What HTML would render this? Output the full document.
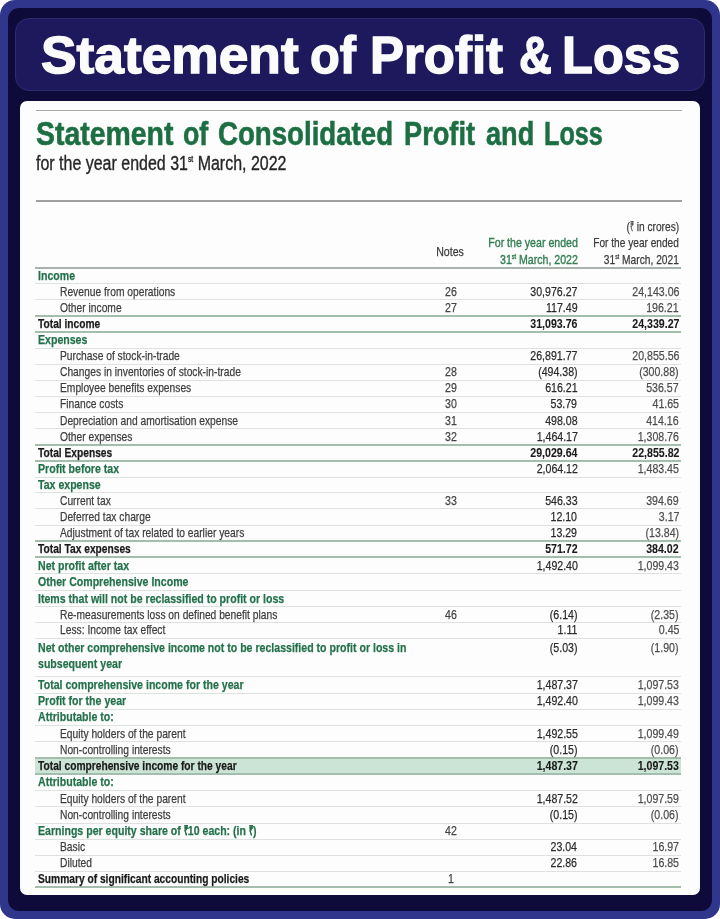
<!DOCTYPE html>
<html><head><meta charset="utf-8"><style>
html,body{margin:0;padding:0;background:#fff;}
#pg{filter:blur(0.3px);position:relative;width:720px;height:919px;overflow:hidden;background:#fff;font-family:"Liberation Sans",sans-serif;}
.outer{position:absolute;left:0;top:0;width:720px;height:919px;background:#30368c;border-radius:15px;}
.navy{position:absolute;left:8px;top:8px;right:8px;bottom:8.5px;background:#0e0b3a;border-radius:11px;}
.pill{position:absolute;left:15px;top:18px;width:689.5px;height:73px;box-sizing:border-box;background:#1d195c;border:1px solid #2e2a6e;border-radius:14px;}
.title{position:absolute;left:41px;top:0;white-space:nowrap;color:#fbfbfb;font-weight:700;font-size:52px;line-height:60px;-webkit-text-stroke:1.4px #fbfbfb;}
.card{position:absolute;left:20px;top:101px;width:680px;height:794px;background:#fdfdfd;border-radius:7px;}
.topln{position:absolute;left:35.5px;top:109.5px;width:646px;height:1.6px;background:#a9a9a3;}
.h1{position:absolute;white-space:nowrap;color:#1d6f43;font-weight:700;font-size:34px;line-height:36px;-webkit-text-stroke:0.6px #1d6f43;}
.sub{position:absolute;white-space:nowrap;color:#262626;font-size:20px;line-height:22px;-webkit-text-stroke:0.35px #262626;}
.sub sup{font-size:8.5px;vertical-align:top;position:relative;top:-3.5px;}
.tl{position:absolute;left:35.5px;top:200px;width:646px;height:1.6px;background:#a0a0a0;}
.ln{position:absolute;left:35px;width:646px;height:1px;background:#dde2df;}
.ln.thk.hdr{background:#a9b2ad;}
.ln.thk{height:2px;background:#a4bead;}
.band{position:absolute;left:35px;width:646px;background:#cce4d5;}
.t{position:absolute;white-space:nowrap;font-size:13.6px;line-height:16px;-webkit-text-stroke:0.25px currentColor;}
.t sup{font-size:7px;vertical-align:top;position:relative;top:-2.5px;}
.gb{color:#23714a;font-weight:700;}
.rs{display:inline-block;transform:scaleX(0.72);margin:0 -1.4px;}
.kb{color:#1a1a1a;font-weight:700;}
.rg{color:#3d3d3d;}
.n{color:#444;}
.v22{color:#2a2a2a;}
.v21{color:#4d4d4d;}
.v22b{color:#1a1a1a;font-weight:700;-webkit-text-stroke:0.1px currentColor;}
.v21b{color:#1a1a1a;font-weight:700;-webkit-text-stroke:0.1px currentColor;}
.h22{color:#327f52;-webkit-text-stroke:0.4px currentColor;}
.h21{color:#3a3a3a;}
</style></head><body><div id="pg">
<div class="outer"></div>
<div class="navy"></div>
<div class="pill"></div>
<div class="title" style="left:40.78px;top:25.4px;transform-origin:0 0;transform:scaleX(1.0248)">Statement</div><div class="title" style="left:309.56px;top:25.4px;transform-origin:0 0;transform:scaleX(0.9367)">of</div><div class="title" style="left:370.06px;top:25.4px;transform-origin:0 0;transform:scaleX(0.9797)">Profit</div><div class="title" style="left:519.05px;top:25.4px;transform-origin:0 0;transform:scaleX(0.8743)">&amp;</div><div class="title" style="left:561.58px;top:25.4px;transform-origin:0 0;transform:scaleX(0.9726)">Loss</div>
<div class="card"></div>
<div class="topln"></div>
<div class="h1" style="left:35.86px;top:115px;transform-origin:0 0;transform:scaleX(0.8356)">Statement</div><div class="h1" style="left:182.81px;top:115px;transform-origin:0 0;transform:scaleX(0.7875)">of</div><div class="h1" style="left:217.99px;top:115px;transform-origin:0 0;transform:scaleX(0.8131)">Consolidated</div><div class="h1" style="left:404.40px;top:115px;transform-origin:0 0;transform:scaleX(0.8000)">Profit</div><div class="h1" style="left:486.10px;top:115px;transform-origin:0 0;transform:scaleX(0.7983)">and</div><div class="h1" style="left:543.52px;top:115px;transform-origin:0 0;transform:scaleX(0.7408)">Loss</div>
<div class="sub" style="left:36px;top:151.5px;transform-origin:0 0;transform:scaleX(0.799)">for the year ended 31<sup>st</sup> March, 2022</div>
<div class="tl"></div>
<div class="band" style="top:757px;height:17px"></div><div class="ln thk hdr" style="top:267.00px"></div><div class="ln lt" style="top:283.00px"></div><div class="ln lt" style="top:299.00px"></div><div class="ln thk" style="top:315.00px"></div><div class="ln thk" style="top:331.00px"></div><div class="ln lt" style="top:348.00px"></div><div class="ln lt" style="top:364.00px"></div><div class="ln lt" style="top:380.00px"></div><div class="ln lt" style="top:396.00px"></div><div class="ln lt" style="top:412.00px"></div><div class="ln lt" style="top:428.00px"></div><div class="ln thk" style="top:444.00px"></div><div class="ln thk" style="top:460.00px"></div><div class="ln lt" style="top:477.00px"></div><div class="ln lt" style="top:492.00px"></div><div class="ln lt" style="top:508.00px"></div><div class="ln lt" style="top:525.00px"></div><div class="ln thk" style="top:540.00px"></div><div class="ln thk" style="top:556.00px"></div><div class="ln lt" style="top:573.00px"></div><div class="ln lt" style="top:590.00px"></div><div class="ln lt" style="top:606.00px"></div><div class="ln lt" style="top:622.00px"></div><div class="ln lt" style="top:638.00px"></div><div class="ln lt" style="top:676.00px"></div><div class="ln lt" style="top:693.00px"></div><div class="ln lt" style="top:709.00px"></div><div class="ln lt" style="top:725.00px"></div><div class="ln lt" style="top:741.00px"></div><div class="ln thk" style="top:757.00px"></div><div class="ln thk" style="top:773.00px"></div><div class="ln lt" style="top:790.00px"></div><div class="ln lt" style="top:806.00px"></div><div class="ln lt" style="top:823.00px"></div><div class="ln lt" style="top:839.00px"></div><div class="ln lt" style="top:855.00px"></div><div class="ln lt" style="top:871.00px"></div><div class="ln thk" style="top:886.00px"></div>
<div class="t gb" style="left:37.8px;top:267.5px;transform-origin:0 0;transform:scaleX(0.778)">Income</div><div class="t rg" style="left:60.0px;top:283.9px;transform-origin:0 0;transform:scaleX(0.755)">Revenue from operations</div><div class="t n" style="left:351.0px;width:200px;text-align:center;top:283.9px;transform-origin:50% 0;transform:scaleX(0.78)">26</div><div class="t v22" style="right:142.5px;top:283.9px;transform-origin:100% 0;transform:scaleX(0.78)">30,976.27</div><div class="t v21" style="right:41.0px;top:283.9px;transform-origin:100% 0;transform:scaleX(0.78)">24,143.06</div><div class="t rg" style="left:60.0px;top:299.5px;transform-origin:0 0;transform:scaleX(0.755)">Other income</div><div class="t n" style="left:351.0px;width:200px;text-align:center;top:299.5px;transform-origin:50% 0;transform:scaleX(0.78)">27</div><div class="t v22" style="right:142.5px;top:299.5px;transform-origin:100% 0;transform:scaleX(0.78)">117.49</div><div class="t v21" style="right:41.0px;top:299.5px;transform-origin:100% 0;transform:scaleX(0.78)">196.21</div><div class="t kb" style="left:37.8px;top:315.9px;transform-origin:0 0;transform:scaleX(0.752)">Total income</div><div class="t v22b" style="right:142.5px;top:315.9px;transform-origin:100% 0;transform:scaleX(0.78)">31,093.76</div><div class="t v21b" style="right:41.0px;top:315.9px;transform-origin:100% 0;transform:scaleX(0.78)">24,339.27</div><div class="t gb" style="left:37.8px;top:332.3px;transform-origin:0 0;transform:scaleX(0.778)">Expenses</div><div class="t rg" style="left:60.0px;top:348.4px;transform-origin:0 0;transform:scaleX(0.755)">Purchase of stock-in-trade</div><div class="t v22" style="right:142.5px;top:348.4px;transform-origin:100% 0;transform:scaleX(0.78)">26,891.77</div><div class="t v21" style="right:41.0px;top:348.4px;transform-origin:100% 0;transform:scaleX(0.78)">20,855.56</div><div class="t rg" style="left:60.0px;top:364.3px;transform-origin:0 0;transform:scaleX(0.755)">Changes in inventories of stock-in-trade</div><div class="t n" style="left:351.0px;width:200px;text-align:center;top:364.3px;transform-origin:50% 0;transform:scaleX(0.78)">28</div><div class="t v22" style="right:142.5px;top:364.3px;transform-origin:100% 0;transform:scaleX(0.78)">(494.38)</div><div class="t v21" style="right:41.0px;top:364.3px;transform-origin:100% 0;transform:scaleX(0.78)">(300.88)</div><div class="t rg" style="left:60.0px;top:380.3px;transform-origin:0 0;transform:scaleX(0.755)">Employee benefits expenses</div><div class="t n" style="left:351.0px;width:200px;text-align:center;top:380.3px;transform-origin:50% 0;transform:scaleX(0.78)">29</div><div class="t v22" style="right:142.5px;top:380.3px;transform-origin:100% 0;transform:scaleX(0.78)">616.21</div><div class="t v21" style="right:41.0px;top:380.3px;transform-origin:100% 0;transform:scaleX(0.78)">536.57</div><div class="t rg" style="left:60.0px;top:396.4px;transform-origin:0 0;transform:scaleX(0.755)">Finance costs</div><div class="t n" style="left:351.0px;width:200px;text-align:center;top:396.4px;transform-origin:50% 0;transform:scaleX(0.78)">30</div><div class="t v22" style="right:142.5px;top:396.4px;transform-origin:100% 0;transform:scaleX(0.78)">53.79</div><div class="t v21" style="right:41.0px;top:396.4px;transform-origin:100% 0;transform:scaleX(0.78)">41.65</div><div class="t rg" style="left:60.0px;top:412.7px;transform-origin:0 0;transform:scaleX(0.755)">Depreciation and amortisation expense</div><div class="t n" style="left:351.0px;width:200px;text-align:center;top:412.7px;transform-origin:50% 0;transform:scaleX(0.78)">31</div><div class="t v22" style="right:142.5px;top:412.7px;transform-origin:100% 0;transform:scaleX(0.78)">498.08</div><div class="t v21" style="right:41.0px;top:412.7px;transform-origin:100% 0;transform:scaleX(0.78)">414.16</div><div class="t rg" style="left:60.0px;top:428.8px;transform-origin:0 0;transform:scaleX(0.755)">Other expenses</div><div class="t n" style="left:351.0px;width:200px;text-align:center;top:428.8px;transform-origin:50% 0;transform:scaleX(0.78)">32</div><div class="t v22" style="right:142.5px;top:428.8px;transform-origin:100% 0;transform:scaleX(0.78)">1,464.17</div><div class="t v21" style="right:41.0px;top:428.8px;transform-origin:100% 0;transform:scaleX(0.78)">1,308.76</div><div class="t kb" style="left:37.8px;top:444.9px;transform-origin:0 0;transform:scaleX(0.752)">Total Expenses</div><div class="t v22b" style="right:142.5px;top:444.9px;transform-origin:100% 0;transform:scaleX(0.78)">29,029.64</div><div class="t v21b" style="right:41.0px;top:444.9px;transform-origin:100% 0;transform:scaleX(0.78)">22,855.82</div><div class="t gb" style="left:37.8px;top:461.0px;transform-origin:0 0;transform:scaleX(0.778)">Profit before tax</div><div class="t v22" style="right:142.5px;top:461.0px;transform-origin:100% 0;transform:scaleX(0.78)">2,064.12</div><div class="t v21" style="right:41.0px;top:461.0px;transform-origin:100% 0;transform:scaleX(0.78)">1,483.45</div><div class="t gb" style="left:37.8px;top:476.6px;transform-origin:0 0;transform:scaleX(0.778)">Tax expense</div><div class="t rg" style="left:60.0px;top:492.9px;transform-origin:0 0;transform:scaleX(0.755)">Current tax</div><div class="t n" style="left:351.0px;width:200px;text-align:center;top:492.9px;transform-origin:50% 0;transform:scaleX(0.78)">33</div><div class="t v22" style="right:142.5px;top:492.9px;transform-origin:100% 0;transform:scaleX(0.78)">546.33</div><div class="t v21" style="right:41.0px;top:492.9px;transform-origin:100% 0;transform:scaleX(0.78)">394.69</div><div class="t rg" style="left:60.0px;top:509.3px;transform-origin:0 0;transform:scaleX(0.755)">Deferred tax charge</div><div class="t v22" style="right:142.5px;top:509.3px;transform-origin:100% 0;transform:scaleX(0.78)">12.10</div><div class="t v21" style="right:41.0px;top:509.3px;transform-origin:100% 0;transform:scaleX(0.78)">3.17</div><div class="t rg" style="left:60.0px;top:525.4px;transform-origin:0 0;transform:scaleX(0.755)">Adjustment of tax related to earlier years</div><div class="t v22" style="right:142.5px;top:525.4px;transform-origin:100% 0;transform:scaleX(0.78)">13.29</div><div class="t v21" style="right:41.0px;top:525.4px;transform-origin:100% 0;transform:scaleX(0.78)">(13.84)</div><div class="t kb" style="left:37.8px;top:541.0px;transform-origin:0 0;transform:scaleX(0.752)">Total Tax expenses</div><div class="t v22b" style="right:142.5px;top:541.0px;transform-origin:100% 0;transform:scaleX(0.78)">571.72</div><div class="t v21b" style="right:41.0px;top:541.0px;transform-origin:100% 0;transform:scaleX(0.78)">384.02</div><div class="t gb" style="left:37.8px;top:557.9px;transform-origin:0 0;transform:scaleX(0.778)">Net profit after tax</div><div class="t v22" style="right:142.5px;top:557.9px;transform-origin:100% 0;transform:scaleX(0.78)">1,492.40</div><div class="t v21" style="right:41.0px;top:557.9px;transform-origin:100% 0;transform:scaleX(0.78)">1,099.43</div><div class="t gb" style="left:37.8px;top:574.0px;transform-origin:0 0;transform:scaleX(0.778)">Other Comprehensive Income</div><div class="t gb" style="left:37.8px;top:590.6px;transform-origin:0 0;transform:scaleX(0.778)">Items that will not be reclassified to profit or loss</div><div class="t rg" style="left:60.0px;top:606.7px;transform-origin:0 0;transform:scaleX(0.755)">Re-measurements loss on defined benefit plans</div><div class="t n" style="left:351.0px;width:200px;text-align:center;top:606.7px;transform-origin:50% 0;transform:scaleX(0.78)">46</div><div class="t v22" style="right:142.5px;top:606.7px;transform-origin:100% 0;transform:scaleX(0.78)">(6.14)</div><div class="t v21" style="right:41.0px;top:606.7px;transform-origin:100% 0;transform:scaleX(0.78)">(2.35)</div><div class="t rg" style="left:60.0px;top:622.3px;transform-origin:0 0;transform:scaleX(0.755)">Less: Income tax effect</div><div class="t v22" style="right:142.5px;top:622.3px;transform-origin:100% 0;transform:scaleX(0.78)">1.11</div><div class="t v21" style="right:41.0px;top:622.3px;transform-origin:100% 0;transform:scaleX(0.78)">0.45</div><div class="t gb" style="left:37.8px;top:639.8px;transform-origin:0 0;transform:scaleX(0.778)">Net other comprehensive income not to be reclassified to profit or loss in</div><div class="t gb" style="left:37.8px;top:656.0px;transform-origin:0 0;transform:scaleX(0.778)">subsequent year</div><div class="t v22" style="right:142.5px;top:640.2px;transform-origin:100% 0;transform:scaleX(0.78)">(5.03)</div><div class="t v21" style="right:41.0px;top:640.2px;transform-origin:100% 0;transform:scaleX(0.78)">(1.90)</div><div class="t gb" style="left:37.8px;top:677.2px;transform-origin:0 0;transform:scaleX(0.778)">Total comprehensive income for the year</div><div class="t v22" style="right:142.5px;top:677.2px;transform-origin:100% 0;transform:scaleX(0.78)">1,487.37</div><div class="t v21" style="right:41.0px;top:677.2px;transform-origin:100% 0;transform:scaleX(0.78)">1,097.53</div><div class="t gb" style="left:37.8px;top:693.4px;transform-origin:0 0;transform:scaleX(0.778)">Profit for the year</div><div class="t v22" style="right:142.5px;top:693.4px;transform-origin:100% 0;transform:scaleX(0.78)">1,492.40</div><div class="t v21" style="right:41.0px;top:693.4px;transform-origin:100% 0;transform:scaleX(0.78)">1,099.43</div><div class="t gb" style="left:37.8px;top:709.4px;transform-origin:0 0;transform:scaleX(0.778)">Attributable to:</div><div class="t rg" style="left:60.0px;top:725.8px;transform-origin:0 0;transform:scaleX(0.755)">Equity holders of the parent</div><div class="t v22" style="right:142.5px;top:725.8px;transform-origin:100% 0;transform:scaleX(0.78)">1,492.55</div><div class="t v21" style="right:41.0px;top:725.8px;transform-origin:100% 0;transform:scaleX(0.78)">1,099.49</div><div class="t rg" style="left:60.0px;top:741.9px;transform-origin:0 0;transform:scaleX(0.755)">Non-controlling interests</div><div class="t v22" style="right:142.5px;top:741.9px;transform-origin:100% 0;transform:scaleX(0.78)">(0.15)</div><div class="t v21" style="right:41.0px;top:741.9px;transform-origin:100% 0;transform:scaleX(0.78)">(0.06)</div><div class="t kb" style="left:37.8px;top:758.0px;transform-origin:0 0;transform:scaleX(0.752)">Total comprehensive income for the year</div><div class="t v22b" style="right:142.5px;top:758.0px;transform-origin:100% 0;transform:scaleX(0.78)">1,487.37</div><div class="t v21b" style="right:41.0px;top:758.0px;transform-origin:100% 0;transform:scaleX(0.78)">1,097.53</div><div class="t gb" style="left:37.8px;top:774.3px;transform-origin:0 0;transform:scaleX(0.778)">Attributable to:</div><div class="t rg" style="left:60.0px;top:790.6px;transform-origin:0 0;transform:scaleX(0.755)">Equity holders of the parent</div><div class="t v22" style="right:142.5px;top:790.6px;transform-origin:100% 0;transform:scaleX(0.78)">1,487.52</div><div class="t v21" style="right:41.0px;top:790.6px;transform-origin:100% 0;transform:scaleX(0.78)">1,097.59</div><div class="t rg" style="left:60.0px;top:807.0px;transform-origin:0 0;transform:scaleX(0.755)">Non-controlling interests</div><div class="t v22" style="right:142.5px;top:807.0px;transform-origin:100% 0;transform:scaleX(0.78)">(0.15)</div><div class="t v21" style="right:41.0px;top:807.0px;transform-origin:100% 0;transform:scaleX(0.78)">(0.06)</div><div class="t gb" style="left:37.8px;top:823.1px;transform-origin:0 0;transform:scaleX(0.778)">Earnings per equity share of <span class="rs">₹</span>10 each: (in <span class="rs">₹</span>)</div><div class="t n" style="left:351.0px;width:200px;text-align:center;top:823.1px;transform-origin:50% 0;transform:scaleX(0.78)">42</div><div class="t rg" style="left:60.0px;top:839.2px;transform-origin:0 0;transform:scaleX(0.755)">Basic</div><div class="t v22" style="right:142.5px;top:839.2px;transform-origin:100% 0;transform:scaleX(0.78)">23.04</div><div class="t v21" style="right:41.0px;top:839.2px;transform-origin:100% 0;transform:scaleX(0.78)">16.97</div><div class="t rg" style="left:60.0px;top:855.2px;transform-origin:0 0;transform:scaleX(0.755)">Diluted</div><div class="t v22" style="right:142.5px;top:855.2px;transform-origin:100% 0;transform:scaleX(0.78)">22.86</div><div class="t v21" style="right:41.0px;top:855.2px;transform-origin:100% 0;transform:scaleX(0.78)">16.85</div><div class="t kb" style="left:37.8px;top:871.4px;transform-origin:0 0;transform:scaleX(0.752)">Summary of significant accounting policies</div><div class="t n" style="left:351.0px;width:200px;text-align:center;top:871.4px;transform-origin:50% 0;transform:scaleX(0.78)">1</div><div class="t h21" style="right:41.0px;top:219.0px;transform-origin:100% 0;transform:scaleX(0.75)">(<span class="rs">₹</span> in crores)</div><div class="t h22" style="right:142.5px;top:235.0px;transform-origin:100% 0;transform:scaleX(0.78)">For the year ended</div><div class="t h22" style="right:142.5px;top:251.6px;transform-origin:100% 0;transform:scaleX(0.78)">31<sup>st</sup> March, 2022</div><div class="t h21" style="right:41.5px;top:235.3px;transform-origin:100% 0;transform:scaleX(0.745)">For the year ended</div><div class="t h21" style="right:41.5px;top:251.6px;transform-origin:100% 0;transform:scaleX(0.752)">31<sup>st</sup> March, 2021</div><div class="t h21" style="left:350.0px;width:200px;text-align:center;top:243.8px;transform-origin:50% 0;transform:scaleX(0.78)">Notes</div>
</div></body></html>
